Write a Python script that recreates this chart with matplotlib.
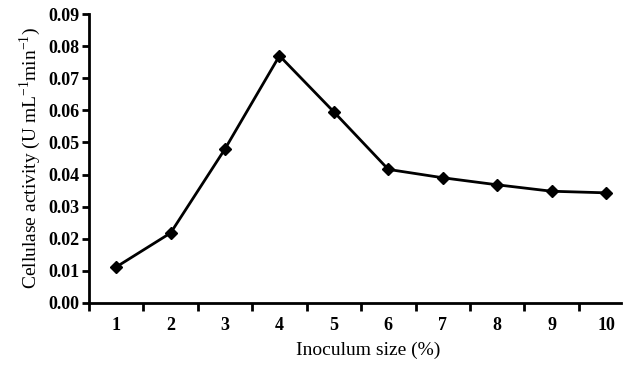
import matplotlib
matplotlib.use("Agg")
import matplotlib.pyplot as plt
from matplotlib.ticker import FixedLocator, NullFormatter


# =====================================================
# DATA
# =====================================================

inoculum = [1, 2, 3, 4, 5, 6, 7, 8, 9, 10]

activity = [0.0112, 0.0218, 0.0480, 0.0770, 0.0595,
            0.0416, 0.0390, 0.0368, 0.0348, 0.0343]

y_ticks = [0.00, 0.01, 0.02, 0.03, 0.04, 0.05, 0.06, 0.07, 0.08, 0.09]


# =====================================================
# STYLE
# =====================================================

plt.rcParams["font.family"] = "Liberation Serif"
plt.rcParams["mathtext.fontset"] = "custom"
plt.rcParams["mathtext.rm"] = "Liberation Serif"
plt.rcParams["mathtext.bf"] = "Liberation Serif:bold"


# =====================================================
# PLOT
# =====================================================

fig = plt.figure(figsize=(6.24, 3.69), dpi=100)
ax = fig.add_axes([0.1426, 0.179, 0.853, 0.783])

ax.plot(
    inoculum,
    activity,
    color="black",
    linewidth=2,
    marker="D",
    markersize=6,
)

ax.set_xlim(0.5, 10.28)
ax.set_ylim(0, 0.09)

# category labels centered, ticks between categories
ax.xaxis.set_major_locator(FixedLocator([x - 0.5 for x in inoculum]))
ax.xaxis.set_major_formatter(NullFormatter())
ax.xaxis.set_minor_locator(FixedLocator(inoculum))
ax.set_xticklabels([str(x) for x in inoculum], minor=True)
ax.tick_params(axis="x", which="minor", length=0, pad=10)
ax.tick_params(axis="x", which="major", direction="out", length=6, width=2)

ax.set_yticks(y_ticks)
ax.set_yticklabels([f"{v:.2f}" for v in y_ticks])
ax.tick_params(axis="y", direction="out", length=5, width=2, pad=2)

for lab in ax.get_xticklabels(minor=True) + ax.get_yticklabels():
    lab.set_fontsize(13)
    lab.set_fontweight("bold")

for side in ["top", "right"]:
    ax.spines[side].set_visible(False)
for side in ["left", "bottom"]:
    ax.spines[side].set_linewidth(2)

ax.set_xlabel("Inoculum size (%)", fontsize=14)
ax.xaxis.set_label_coords(0.524, -0.135)
ax.set_ylabel(r"Cellulase activity (U mL$^{-1}$min$^{-1}$)", fontsize=14, labelpad=4)

fig.savefig("out.png", dpi=100)
plt.close(fig)
